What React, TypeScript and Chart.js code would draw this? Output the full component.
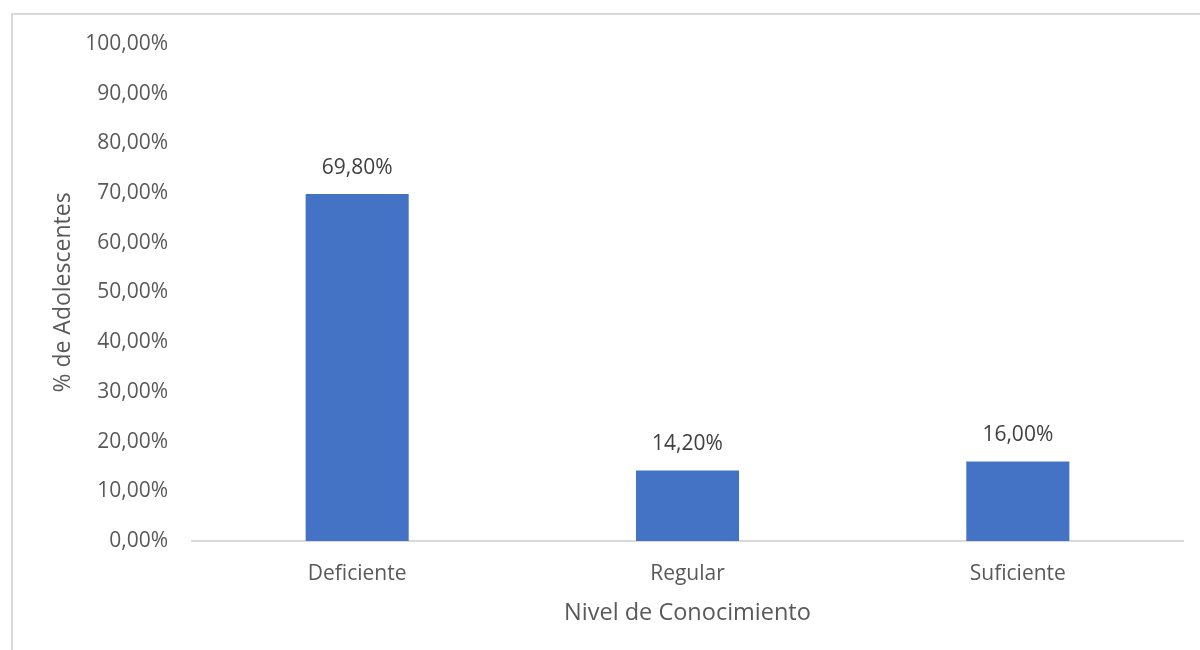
import React, { useEffect, useRef } from "react";
import { Chart, registerables } from "chart.js";

Chart.register(...registerables);

const categories = ["Deficiente", "Regular", "Suficiente"];
const percentValues = [69.8, 14.2, 16.0];
const yTickValues = [0, 10, 20, 30, 40, 50, 60, 70, 80, 90, 100];

const FONT = "'Open Sans', 'Noto Sans', sans-serif";
const TEXT = "#595959";

const fmt = (v: number) => v.toFixed(2).replace(".", ",") + "%";

const valueLabels = {
  id: "valueLabels",
  afterDatasetsDraw(chart: any) {
    const ctx = chart.ctx;
    const meta = chart.getDatasetMeta(0);
    ctx.save();
    ctx.font = `21px ${FONT}`;
    ctx.fillStyle = "#404040";
    ctx.textAlign = "center";
    ctx.textBaseline = "middle";
    meta.data.forEach((bar: any, i: number) => {
      ctx.fillText(fmt(percentValues[i]), bar.x, bar.y - 26);
    });
    ctx.restore();
  },
};

export default function App() {
  const ref = useRef<HTMLCanvasElement>(null);

  useEffect(() => {
    if (!ref.current) return;
    const chart = new Chart(ref.current, {
      type: "bar",
      data: {
        labels: categories,
        datasets: [
          {
            data: percentValues,
            backgroundColor: "#4472C4",
            categoryPercentage: 1,
            barPercentage: 0.312,
          },
        ],
      },
      options: {
        animation: false,
        responsive: false,
        layout: { padding: { top: 44, right: 17, left: 0, bottom: 0 } },
        plugins: { legend: { display: false }, tooltip: { enabled: false } },
        scales: {
          x: {
            grid: { display: false, drawTicks: false },
            border: { display: true, color: "#d9d9d9", width: 2 },
            ticks: { color: TEXT, font: { family: FONT, size: 21 }, padding: 20 },
            title: {
              display: true,
              text: "Nivel de Conocimiento",
              color: TEXT,
              font: { family: FONT, size: 23.5 },
              padding: { top: 23, bottom: 23 },
            },
            afterFit: (scale: any) => {
              scale.height = 109;
            },
          },
          y: {
            min: 0,
            max: 100,
            afterBuildTicks: (scale: any) => {
              scale.ticks = yTickValues.map((v) => ({ value: v }));
            },
            grid: { display: false, drawTicks: false },
            border: { display: false },
            ticks: {
              color: TEXT,
              font: { family: FONT, size: 21 },
              padding: 24,
              callback: (v: any) => fmt(Number(v)),
            },
            title: {
              display: true,
              text: "% de Adolescentes",
              color: TEXT,
              font: { family: FONT, size: 23 },
              padding: { top: 50, bottom: 50 },
            },
            afterFit: (scale: any) => {
              scale.width = 192;
            },
          },
        },
      },
      plugins: [valueLabels],
    });
    return () => chart.destroy();
  }, []);

  return (
    <div style={{ position: "fixed", left: 0, top: 0, width: 1200, height: 650, background: "#fff" }}>
      <div
        style={{
          position: "absolute",
          left: 11,
          top: 13,
          right: 0,
          bottom: 0,
          borderTop: "2px solid #d9d9d9",
          borderLeft: "2px solid #d9d9d9",
        }}
      />
      <canvas ref={ref} width={1200} height={650} style={{ position: "absolute", left: 0, top: 0 }} />
    </div>
  );
}
